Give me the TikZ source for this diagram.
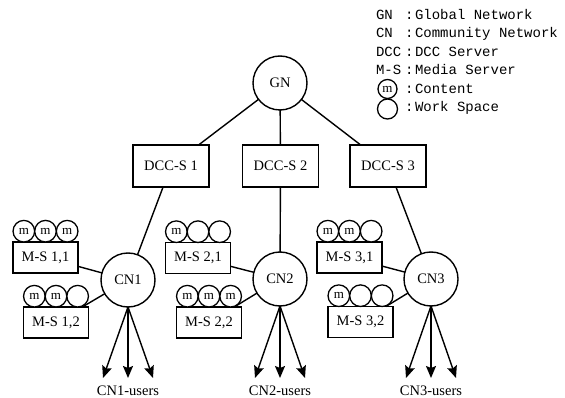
\documentclass[tikz,border=0pt]{standalone}
\usepackage{fontspec}
\setmainfont{Liberation Serif}
\newfontfamily\legendfont{Liberation Mono}
\usetikzlibrary{calc,arrows.meta}
\newcommand\slotrow[4]{%
  \node[slot,anchor=south] (#1a) at ($(#1.north west)!0.16667!(#1.north east)$) {#2};
  \node[slot,anchor=south] (#1b) at ($(#1.north west)!0.5!(#1.north east)$) {#3};
  \node[slot,anchor=south] (#1c) at ($(#1.north west)!0.83333!(#1.north east)$) {#4};
}
\begin{document}
\begin{tikzpicture}[x=1pt,y=-1pt,
  every node/.style={outer sep=0pt},
  conn/.style={line width=1.4pt},
  txt/.style={font=\fontsize{14.5}{17}\selectfont},
  big/.style={circle,draw,line width=1.4pt,minimum size=54pt,inner sep=0pt,txt},
  dcc/.style={rectangle,draw,line width=1.4pt,minimum width=76pt,minimum height=42pt,inner sep=0pt,txt},
  ms/.style={rectangle,draw,line width=1.4pt,minimum width=65pt,minimum height=31pt,inner sep=0pt,txt},
  slot/.style={circle,draw,line width=1.3pt,minimum size=21.6pt,inner sep=0pt,fill=white,font=\fontsize{13}{13}\selectfont},
  usr/.style={-{Stealth[length=12pt,width=10pt,inset=2pt]},line width=1.4pt},
  lbl/.style={inner sep=0pt,txt},
  leg/.style={anchor=west,inner sep=0pt,text height=10pt,text depth=3pt,font=\legendfont\fontsize{14}{16}\selectfont}
]
\useasboundingbox (0,0) rectangle (565,398);

% main nodes
\node[big] (gn) at (280,83) {GN};
\node[dcc] (d1) at (171,166) {DCC-S 1};
\node[dcc] (d2) at (280.5,166) {DCC-S 2};
\node[dcc] (d3) at (388,166) {DCC-S 3};
\node[big] (cn1) at (128,280) {CN1};
\node[big] (cn2) at (280,279) {CN2};
\node[big] (cn3) at (431,279) {CN3};

\node[ms] (ms11) at (45.5,257.5) {M-S 1,1};
\node[ms] (ms12) at (56,322.5) {M-S 1,2};
\node[ms] (ms21) at (198,258) {M-S 2,1};
\node[ms] (ms22) at (209,322.5) {M-S 2,2};
\node[ms] (ms31) at (349.5,257.5) {M-S 3,1};
\node[ms] (ms32) at (360.5,322) {M-S 3,2};

% connectors
\draw[conn] (gn) -- (d1);
\draw[conn] (gn) -- (d2);
\draw[conn] (gn) -- (d3);
\draw[conn] (d1) -- (cn1);
\draw[conn] (d2) -- (cn2);
\draw[conn] (d3) -- (cn3);
\draw[conn] (ms11) -- (cn1);
\draw[conn] (ms12) -- (cn1);
\draw[conn] (ms21) -- (cn2);
\draw[conn] (ms22) -- (cn2);
\draw[conn] (ms31) -- (cn3);
\draw[conn] (ms32) -- (cn3);

% slots
\slotrow{ms11}{m}{m}{m}
\slotrow{ms12}{m}{m}{}
\slotrow{ms21}{m}{}{}
\slotrow{ms22}{m}{m}{m}
\slotrow{ms31}{m}{m}{}
\slotrow{ms32}{m}{}{}

% users
\node[lbl] (u1) at (128,391) {CN1-users};
\node[lbl] (u2) at (280,391) {CN2-users};
\node[lbl] (u3) at (431,391) {CN3-users};
\coordinate (u1l) at (103,378);
\coordinate (u1m) at (128,378);
\coordinate (u1r) at (153,378);
\coordinate (u2l) at (255,378);
\coordinate (u2m) at (280,378);
\coordinate (u2r) at (305,378);
\coordinate (u3l) at (406,378);
\coordinate (u3m) at (431,378);
\coordinate (u3r) at (456,378);
\draw[usr] (cn1.south) -- (u1l);
\draw[usr] (cn1.south) -- (u1m);
\draw[usr] (cn1.south) -- (u1r);
\draw[usr] (cn2.south) -- (u2l);
\draw[usr] (cn2.south) -- (u2m);
\draw[usr] (cn2.south) -- (u2r);
\draw[usr] (cn3.south) -- (u3l);
\draw[usr] (cn3.south) -- (u3m);
\draw[usr] (cn3.south) -- (u3r);

% legend
\node[leg] (k1) at (376,16) {GN};
\node[leg] (k2) at (376,34.5) {CN};
\node[leg] (k3) at (376,53) {DCC};
\node[leg] (k4) at (376,71.5) {M-S};
\node[slot,minimum size=19pt] (k5) at (387.5,89) {m};
\node[slot,minimum size=20pt] (k6) at (387.5,109) {};
\foreach \i/\y in {1/16,2/34.5,3/53,4/71.5,5/90,6/108.5}{
  \node[leg] (c\i) at (405,\y) {:};
}
\node[leg] (t1) at (415,16) {Global Network};
\node[leg] (t2) at (415,34.5) {Community Network};
\node[leg] (t3) at (415,53) {DCC Server};
\node[leg] (t4) at (415,71.5) {Media Server};
\node[leg] (t5) at (415,90) {Content};
\node[leg] (t6) at (415,108.5) {Work Space};
\end{tikzpicture}
\end{document}
